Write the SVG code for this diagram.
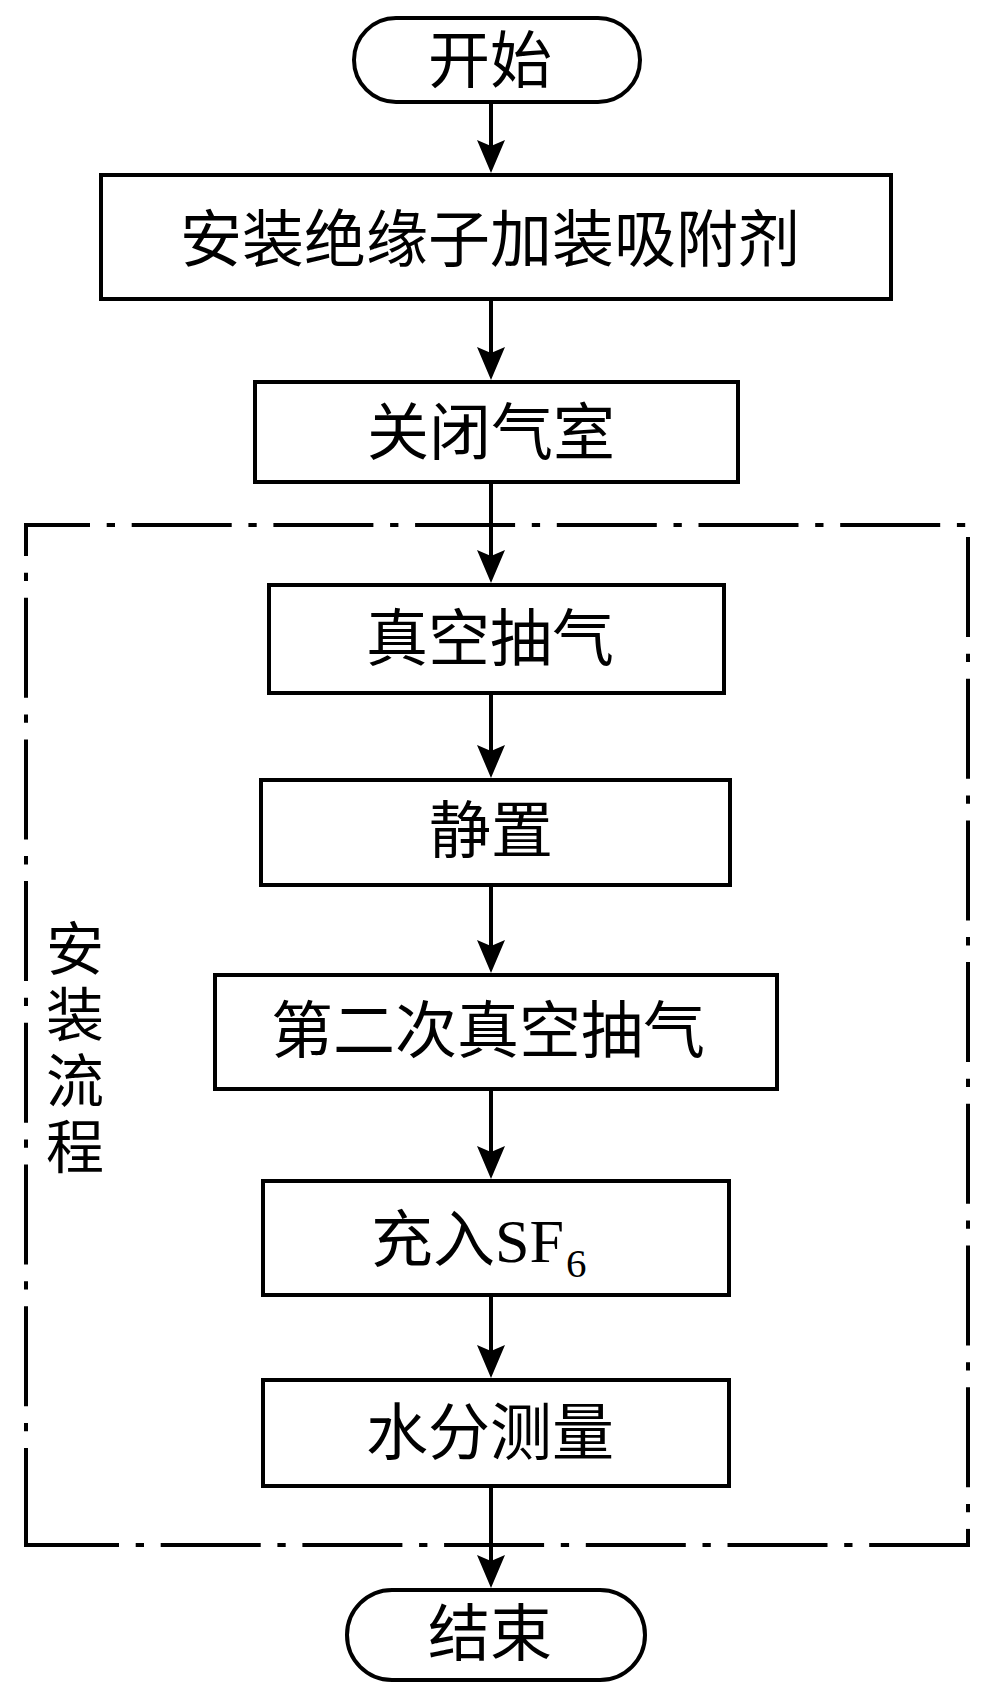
<svg xmlns="http://www.w3.org/2000/svg" width="984" height="1699" viewBox="0 0 984 1699">
<style>
.box{fill:#fff;stroke:#000;stroke-width:4}
.lbl{font-family:"Noto Sans CJK SC","Noto Sans CJK JP",sans-serif;font-size:62px;fill:#000;text-anchor:middle}
.side{font-family:"Noto Sans CJK SC","Noto Sans CJK JP",sans-serif;font-size:58px;fill:#000;writing-mode:vertical-rl;letter-spacing:8px}
.conn{stroke:#000;stroke-width:4;fill:none;marker-end:url(#ah)}
.dd{stroke:#000;stroke-width:4;fill:none;stroke-dasharray:100 16.7 8.3 16.7}
</style>
<defs>
<marker id="ah" markerUnits="userSpaceOnUse" viewBox="0 0 33 28" markerWidth="33" markerHeight="28" refX="25" refY="14" orient="auto">
<path d="M33,14 L0,0 L6,14 L0,28 Z" fill="#000"/>
</marker>
</defs>
<rect width="984" height="1699" fill="#fff"/>
<g id="group-install">
<line class="dd" x1="24" y1="525" x2="968" y2="525" stroke-dashoffset="34"/>
<line class="dd" x1="968" y1="523" x2="968" y2="1547" stroke-dashoffset="127.7"/>
<line class="dd" x1="24" y1="1545" x2="970" y2="1545" stroke-dashoffset="5"/>
<line class="dd" x1="26" y1="523" x2="26" y2="1547" stroke-dashoffset="67"/>
<text class="side" x="75" y="919">安装流程</text>
</g>
<g id="connectors">
<line class="conn" x1="491" y1="103" x2="491" y2="165"/>
<line class="conn" x1="491" y1="301" x2="491" y2="372"/>
<line class="conn" x1="491" y1="484" x2="491" y2="575"/>
<line class="conn" x1="491" y1="695" x2="491" y2="770"/>
<line class="conn" x1="491" y1="887" x2="491" y2="965"/>
<line class="conn" x1="491" y1="1091" x2="491" y2="1171"/>
<line class="conn" x1="491" y1="1297" x2="491" y2="1370"/>
<line class="conn" x1="491" y1="1488" x2="491" y2="1580"/>
</g>
<g id="start">
<rect class="box" x="354" y="18" width="286" height="84" rx="42" ry="42"/>
<text class="lbl" x="490" y="83">开始</text>
</g>
<g id="n1">
<rect class="box" x="101" y="175" width="790" height="124"/>
<text class="lbl" x="490" y="262">安装绝缘子加装吸附剂</text>
</g>
<g id="n2">
<rect class="box" x="255" y="382" width="483" height="100"/>
<text class="lbl" x="491" y="455">关闭气室</text>
</g>
<g id="n3">
<rect class="box" x="269" y="585" width="455" height="108"/>
<text class="lbl" x="490" y="661">真空抽气</text>
</g>
<g id="n4">
<rect class="box" x="261" y="780" width="469" height="105"/>
<text class="lbl" x="491" y="853">静置</text>
</g>
<g id="n5">
<rect class="box" x="215" y="975" width="562" height="114"/>
<text class="lbl" x="488" y="1053">第二次真空抽气</text>
</g>
<g id="n6">
<rect class="box" x="263" y="1181" width="466" height="114"/>
<text class="lbl" x="371" y="1262" style="text-anchor:start">充入<tspan font-family="Liberation Serif, serif" font-size="62">SF</tspan><tspan font-family="Liberation Serif, serif" font-size="41" dx="2" dy="15">6</tspan></text>
</g>
<g id="n7">
<rect class="box" x="263" y="1380" width="466" height="106"/>
<text class="lbl" x="490" y="1455">水分测量</text>
</g>
<g id="end">
<rect class="box" x="347" y="1590" width="298" height="90" rx="45" ry="45"/>
<text class="lbl" x="490" y="1656">结束</text>
</g>
</svg>
